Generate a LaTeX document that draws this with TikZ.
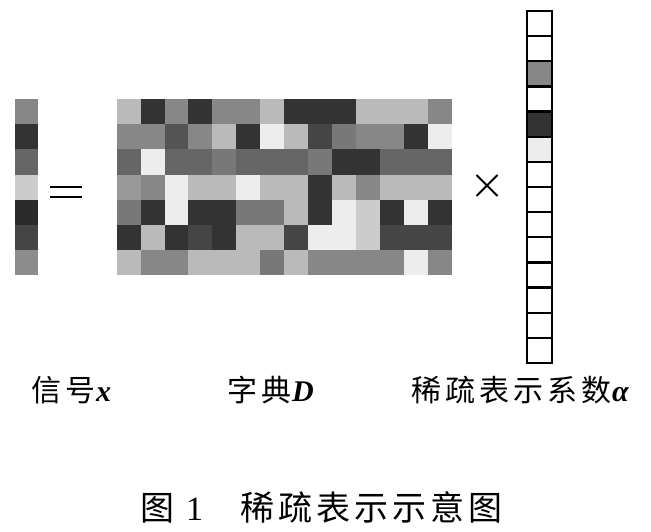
\documentclass[tikz,border=0pt]{standalone}
\usepackage{fontspec}
\newfontfamily\cjk{Noto Sans CJK SC}
\newfontfamily\tms{Liberation Serif}
\tikzset{
  labtext/.style={anchor=base west, inner sep=0pt, font=\cjk\fontsize{30}{30}\selectfont},
  captext/.style={anchor=base west, inner sep=0pt, font=\cjk\fontsize{34}{34}\selectfont},
  symline/.style={line width=2pt, line cap=butt}
}
\newcommand{\bi}[1]{{\tms\bfseries\itshape #1}}
\newcommand{\gp}{\hspace{4pt}}
\begin{document}
\begin{tikzpicture}[x=1pt,y=-1pt]
\fill[white] (0,0) rectangle (651,532);
\useasboundingbox (0,0) rectangle (651,532);
% signal x
\foreach \g [count=\r from 0] in {47,80,60,20,83,73,45} {
  \fill[black!\g] (15,99.3+\r*25.1) rectangle ++(23,25.1);
}
% equals sign
\draw[symline] (50,186.7) -- (82,186.7);
\draw[symline] (50,196.7) -- (82,196.7);
% dictionary D
\foreach \row [count=\r from 0] in {
  {27,80,47,80,47,47,27,80,80,80,27,27,27,47},
  {47,47,67,47,27,80,7,27,73,53,47,47,80,7},
  {60,7,60,60,53,60,60,60,53,80,80,60,60,60},
  {40,47,7,27,27,7,27,27,80,27,47,27,27,27},
  {53,80,7,80,80,53,53,27,80,7,20,80,7,80},
  {80,27,80,73,80,27,27,73,7,7,20,73,73,73},
  {27,47,47,27,27,27,53,27,47,47,47,47,7,47}} {
  \foreach \g [count=\c from 0] in \row {
    \fill[black!\g] (116.7+\c*23.93,99.3+\r*25.1) rectangle ++(23.93,25.1);
  }
}
% times sign
\draw[symline] (476.5,175) -- (497.5,196);
\draw[symline] (476.5,196) -- (497.5,175);
% sparse coefficient alpha
\foreach \g [count=\r from 0] in {0,0,47,0,80,7,0,0,0,0,0,0,0,0} {
  \filldraw[fill=black!\g, draw=black, line width=2.2pt] (527,11+\r*25.14) rectangle ++(25,25.14);
}
% labels
\node[labtext] (lx) at (31,401) {信\gp 号\hspace{1pt}\bi{x}};
\node[labtext] (lD) at (227,401) {字\gp 典\hspace{1pt}\bi{D}};
\node[labtext] (la) at (411,401) {稀\gp 疏\gp 表\gp 示\gp 系\gp 数\hspace{1pt}\bi{α}};
% caption
\node[captext] (c1) at (140,520) {图};
\node[captext] (c2) at (186,520) {\tms 1};
\node[captext] (c3) at (240,520) {稀\gp 疏\gp 表\gp 示\gp 示\gp 意\gp 图};
\end{tikzpicture}
\end{document}
